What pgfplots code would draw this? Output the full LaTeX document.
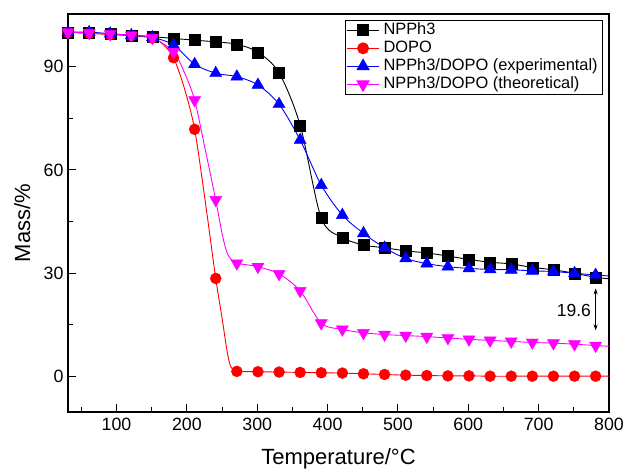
\documentclass[border=0pt]{standalone}
\usepackage{pgfplots}
\pgfplotsset{compat=1.18}
\usepackage{fontspec}
\setmainfont{Liberation Sans}
\usetikzlibrary{arrows.meta}

\definecolor{cNP}{RGB}{0,0,0}
\definecolor{cDO}{RGB}{255,0,0}
\definecolor{cEX}{RGB}{0,0,255}
\definecolor{cTH}{RGB}{255,0,255}

\begin{document}
\begin{tikzpicture}
\begin{axis}[
  scale only axis,
  width=541pt, height=398pt,
  xmin=31, xmax=800, ymin=-10.3, ymax=105.3,
  axis line style={line width=1.4pt},
  xtick pos=bottom, ytick pos=left,
  tick align=inside,
  major tick length=8pt, minor tick length=5pt,
  xtick={100,200,...,800}, minor xtick={50,150,...,750},
  ytick={0,30,60,90}, minor ytick={15,45,75},
  tick style={black, line width=1pt},
  /pgf/number format/assume math mode=true,
  ticklabel style={font=\fontsize{17.8}{20}\selectfont},
  xticklabel style={yshift=-3pt},
  yticklabel style={xshift=-1pt},
  xlabel={Temperature/°C},
  ylabel={Mass/\%},
  label style={font=\fontsize{22}{26}\selectfont},
  xlabel style={at={(axis description cs:0.5,-0.1307)}, anchor=base, inner sep=0pt},
  ylabel style={at={(axis description cs:-0.0702,0.475)}, anchor=base, inner sep=0pt},
  legend cell align=left,
  legend image code/.code={%
    \draw[mark repeat=2,mark phase=2,#1] plot coordinates {(0pt,0pt) (16pt,0pt) (32pt,0pt)};},
  legend style={at={(rel axis cs:1,1)}, anchor=north east, xshift=-6pt, yshift=-6pt,
    draw=black, line width=0.6pt, inner sep=1pt,
    font=\fontsize{16.4}{17}\selectfont,
    nodes={inner ysep=1pt, inner xsep=4pt, text height=12pt, text depth=4pt}},
]

% legend images: line with a centred marker
\addlegendimage{cNP, line width=0.9pt, mark=square*, mark size=5.5pt, mark options={fill=cNP}}
\addlegendimage{cDO, line width=0.9pt, mark=*, mark size=5.5pt, mark options={fill=cDO}}
\addlegendimage{cEX, line width=0.9pt, mark=triangle*, mark size=7pt, mark options={fill=cEX}}
\addlegendimage{cTH, line width=0.9pt, mark=triangle*, mark size=7pt, mark options={fill=cTH, rotate=180}}
\legend{NPPh3, DOPO, NPPh3/DOPO (experimental), NPPh3/DOPO (theoretical)}

% NPPh3
\addplot[cNP, line width=0.9pt, smooth, no marks, forget plot] coordinates {
 (31,100.0)(61,99.8)(91,99.5)(121,99.1)(151,98.7)(181,98.2)(211,97.7)(241,97.2)
 (271,96.5)(301,94.2)(331,88.2)(361,73.0)(391,46.0)(421,40.4)(451,38.2)(481,37.4)
 (511,36.5)(541,35.9)(571,35.0)(601,34.0)(631,33.2)(661,32.7)(691,31.7)(721,31.0)
 (751,30.0)(781,28.8)(800,28.4)};
\addplot[cNP, only marks, mark=square*, mark size=5.5pt, mark options={fill=cNP}, forget plot] coordinates {
 (31,100.0)(61,99.8)(91,99.5)(121,99.1)(151,98.7)(181,98.2)(211,97.7)(241,97.2)
 (271,96.5)(301,94.2)(331,88.2)(361,73.0)(391,46.0)(421,40.4)(451,38.2)(481,37.4)
 (511,36.5)(541,35.9)(571,35.0)(601,34.0)(631,33.2)(661,32.7)(691,31.7)(721,31.0)
 (751,30.0)(781,28.8)};

% DOPO
\addplot[cDO, line width=0.9pt, smooth, no marks, forget plot] coordinates {
 (31,100.0)(61,99.7)(91,99.3)(121,99.0)(151,98.3)(166,96.5)(181,92.6)(196,84.0)
 (211,71.8)(226,51.0)(241,28.5)(250,17.0)(257,7.5)(262,3.0)(267,1.8)(271,1.5)
 (301,1.4)(331,1.3)(361,1.2)(391,1.1)(421,1.0)(451,0.8)(481,0.6)(511,0.4)(541,0.3)
 (571,0.2)(601,0.2)(631,0.1)(661,0.1)(691,0.1)(721,0.1)(751,0.1)(781,0.1)(800,0.1)};
\addplot[cDO, only marks, mark=*, mark size=5.5pt, mark options={fill=cDO}, forget plot] coordinates {
 (31,100.0)(61,99.7)(91,99.3)(121,99.0)(151,98.3)(181,92.6)(211,71.8)(241,28.5)
 (271,1.5)(301,1.4)(331,1.3)(361,1.2)(391,1.1)(421,1.0)(451,0.8)(481,0.6)(511,0.4)
 (541,0.3)(571,0.2)(601,0.2)(631,0.1)(661,0.1)(691,0.1)(721,0.1)(751,0.1)(781,0.1)};

% NPPh3/DOPO, experimental
\addplot[cEX, line width=0.9pt, smooth, no marks, forget plot] coordinates {
 (31,100.0)(61,100.0)(91,99.6)(121,99.1)(151,98.5)(181,96.3)(211,90.7)(241,88.1)
 (271,87.1)(301,84.7)(331,79.1)(361,68.7)(391,55.6)(421,46.9)(451,41.6)(481,37.4)
 (511,34.3)(541,32.8)(571,31.9)(601,31.4)(631,31.1)(661,31.0)(691,30.7)(721,30.5)
 (751,30.0)(781,29.5)(800,29.2)};
\addplot[cEX, only marks, mark=triangle*, mark size=7pt, mark options={fill=cEX}, forget plot] coordinates {
 (31,100.0)(61,100.0)(91,99.6)(121,99.1)(151,98.5)(181,96.3)(211,90.7)(241,88.1)
 (271,87.1)(301,84.7)(331,79.1)(361,68.7)(391,55.6)(421,46.9)(451,41.6)(481,37.4)
 (511,34.3)(541,32.8)(571,31.9)(601,31.4)(631,31.1)(661,31.0)(691,30.7)(721,30.5)
 (751,30.0)(781,29.5)};

% NPPh3/DOPO, theoretical
\addplot[cTH, line width=0.9pt, smooth, no marks, forget plot] coordinates {
 (31,100.0)(61,99.8)(91,99.5)(121,99.1)(151,98.4)(181,94.3)(196,88.5)(211,80.3)
 (226,66.0)(241,51.3)(250,41.5)(257,36.0)(263,34.0)(271,32.9)(301,31.9)(331,29.8)
 (361,24.9)(391,15.5)(421,13.7)(451,12.7)(481,12.2)(511,11.9)(541,11.6)(571,11.2)
 (601,10.8)(631,10.5)(661,10.2)(691,9.9)(721,9.7)(751,9.4)(781,9.0)(800,8.8)};
\addplot[cTH, only marks, mark=triangle*, mark size=7pt, mark options={fill=cTH, rotate=180}, forget plot] coordinates {
 (31,100.0)(61,99.8)(91,99.5)(121,99.1)(151,98.4)(181,94.3)(211,80.3)(241,51.3)
 (271,32.9)(301,31.9)(331,29.8)(361,24.9)(391,15.5)(421,13.7)(451,12.7)(481,12.2)
 (511,11.9)(541,11.6)(571,11.2)(601,10.8)(631,10.5)(661,10.2)(691,9.9)(721,9.7)
 (751,9.4)(781,9.0)};

% gap between experimental and theoretical residue at the last point
\draw[{Stealth[length=6pt,width=4pt]}-{Stealth[length=6pt,width=4pt]}, line width=0.8pt]
  (axis cs:781,25.6) -- (axis cs:781,13.4);
\node[anchor=east, font=\fontsize{17.5}{20}\selectfont, inner sep=1pt] at (axis cs:776,19.1) {19.6};
\end{axis}
\pgfresetboundingbox
\path ([shift={(-68pt,-59pt)}]current axis.south west) rectangle ([shift={(21pt,14pt)}]current axis.north east);
\end{tikzpicture}
\end{document}
